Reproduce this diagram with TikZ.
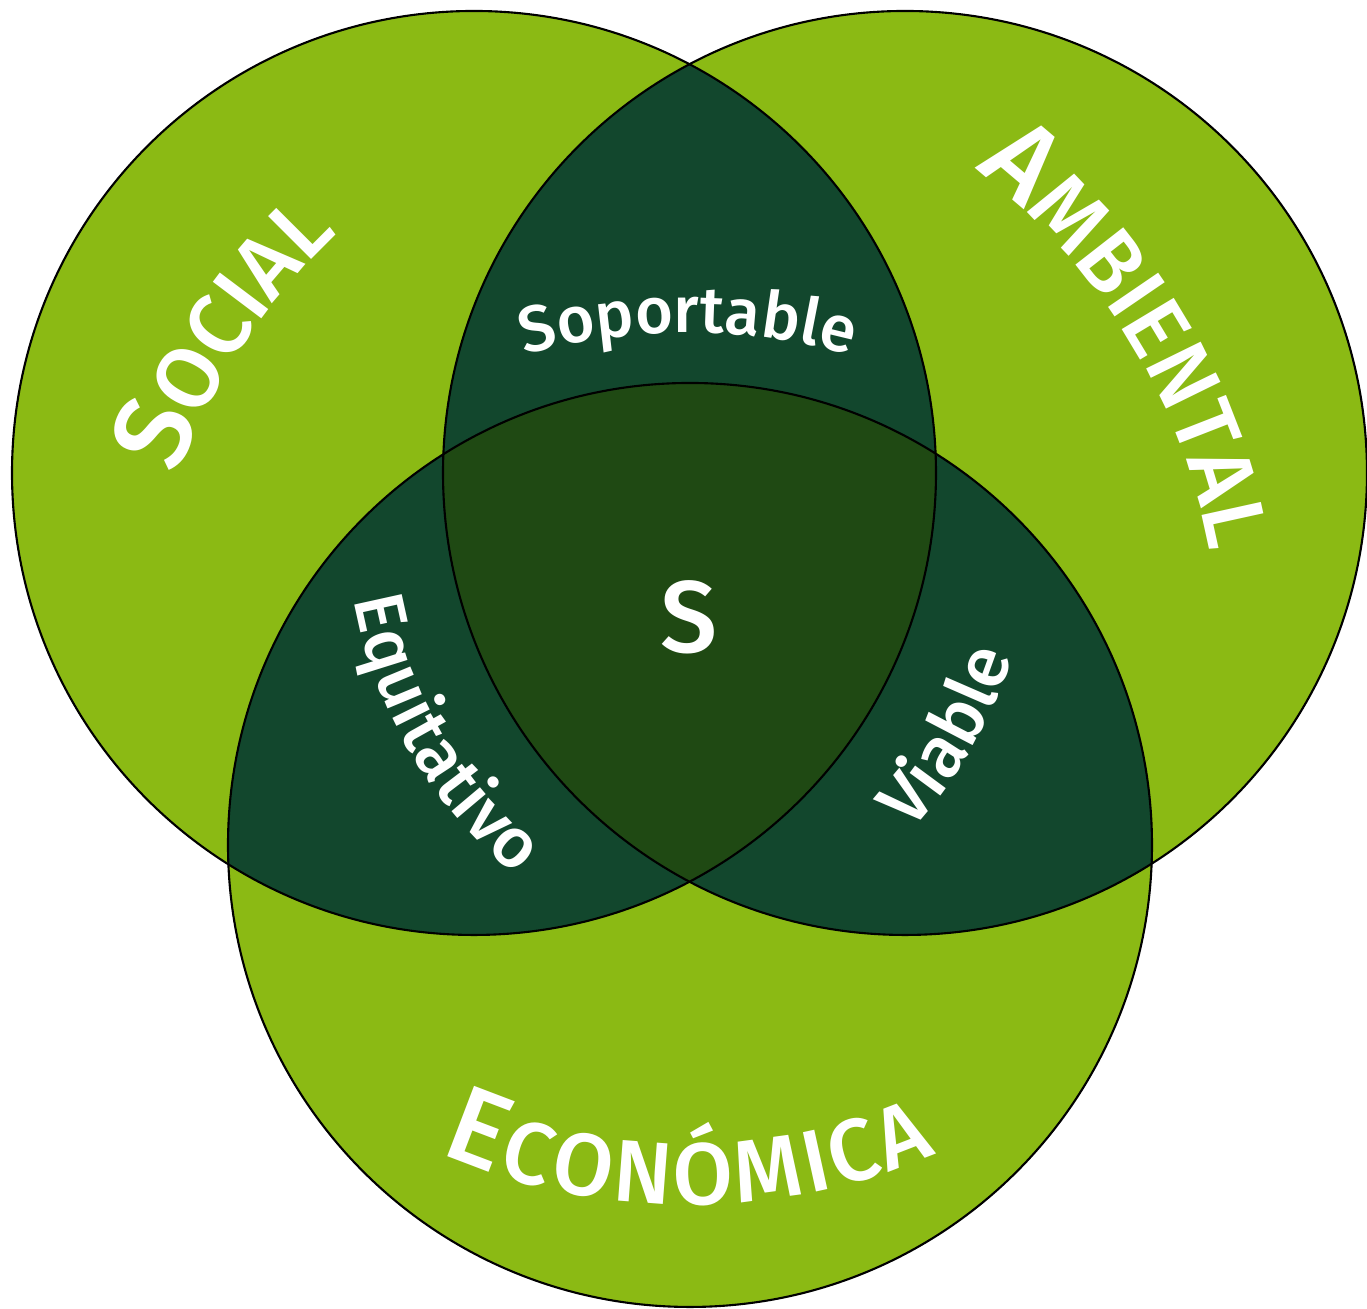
\documentclass[tikz,border=0pt]{standalone}
\usepackage{fontspec}
\setmainfont{Fira Sans}
\newfontfamily\medfont{Fira Sans Medium}
\usepackage{xcolor}
\usetikzlibrary{decorations.text}

\definecolor{leafgreen}{HTML}{8BBA14}
\definecolor{pairgreen}{HTML}{12472D}
\definecolor{coregreen}{HTML}{1F4913}

\newcommand{\capsize}{\color{white}\medfont\fontsize{31}{31}\selectfont}
\newcommand{\scsize}{\color{white}\medfont\fontsize{25}{25}\selectfont}

\begin{document}
\begin{tikzpicture}[
  ring/.style={draw=black, line width=0.6pt},
  bigword/.style={decorate, decoration={text along path, text align=center,
    text={|\capsize|#1}}},
  widebigword/.style={decorate, decoration={text along path, text align={fit to path},
    text={|\capsize|#1}}},
  smallword/.style 2 args={decorate, decoration={text along path, text align=center,
    text={|\color{white}\medfont\fontsize{#1}{#1}\selectfont|#2}}},
  core/.style={text=white, font=\medfont\fontsize{29}{29}\selectfont, inner sep=0pt}
]
\useasboundingbox (0,0) rectangle (13.67,13.09);

\coordinate (social) at (4.74,8.36);
\coordinate (ambiental) at (9.05,8.36);
\coordinate (economica) at (6.90,4.64);

% base circles
\fill[leafgreen] (social) circle (4.62);
\fill[leafgreen] (ambiental) circle (4.62);
\fill[leafgreen] (economica) circle (4.62);

% pairwise overlaps
\begin{scope}
  \clip (social) circle (4.62);
  \fill[pairgreen] (ambiental) circle (4.62);
  \fill[pairgreen] (economica) circle (4.62);
\end{scope}
\begin{scope}
  \clip (ambiental) circle (4.62);
  \fill[pairgreen] (economica) circle (4.62);
\end{scope}

% triple overlap
\begin{scope}
  \clip (social) circle (4.62);
  \clip (ambiental) circle (4.62);
  \fill[coregreen] (economica) circle (4.62);
\end{scope}

\draw[ring] (social) circle (4.62);
\draw[ring] (ambiental) circle (4.62);
\draw[ring] (economica) circle (4.62);

% arc centres for the labels
\coordinate (socarc) at (7.63,6.20);
\coordinate (ambarc) at (5.97,6.45);
\coordinate (ecoarc) at (6.88,7.27);
\coordinate (soparc) at (6.88,3.53);
\coordinate (equarc) at (8.07,7.90);
\coordinate (viaarc) at (5.73,7.90);

\path[bigword={S|\scsize|OCIAL}]
  ([shift={(170:6.23)}]socarc) arc[start angle=170, end angle=123, radius=6.23];
\path[bigword={A|\scsize|MBIENTAL}]
  ([shift={(72:6.23)}]ambarc) arc[start angle=72, end angle=-9, radius=6.23];
\path[widebigword={E|\scsize|CONÓMICA}]
  ([shift={(-113.5:6.23)}]ecoarc) arc[start angle=-113.5, end angle=-66.5, radius=6.23];

\path[smallword={18.5}{Soportable}]
  ([shift={(110:6.23)}]soparc) arc[start angle=110, end angle=70, radius=6.23];
\path[smallword={20}{Equitativo}]
  ([shift={(183.5:4.6)}]equarc) arc[start angle=183.5, end angle=237.5, radius=4.6];
\path[smallword={20.5}{Viable}]
  ([shift={(-57:4.6)}]viaarc) arc[start angle=-57, end angle=-3, radius=4.6];

\node[core] (s) at (6.89,6.92) {S};
\end{tikzpicture}
\end{document}
